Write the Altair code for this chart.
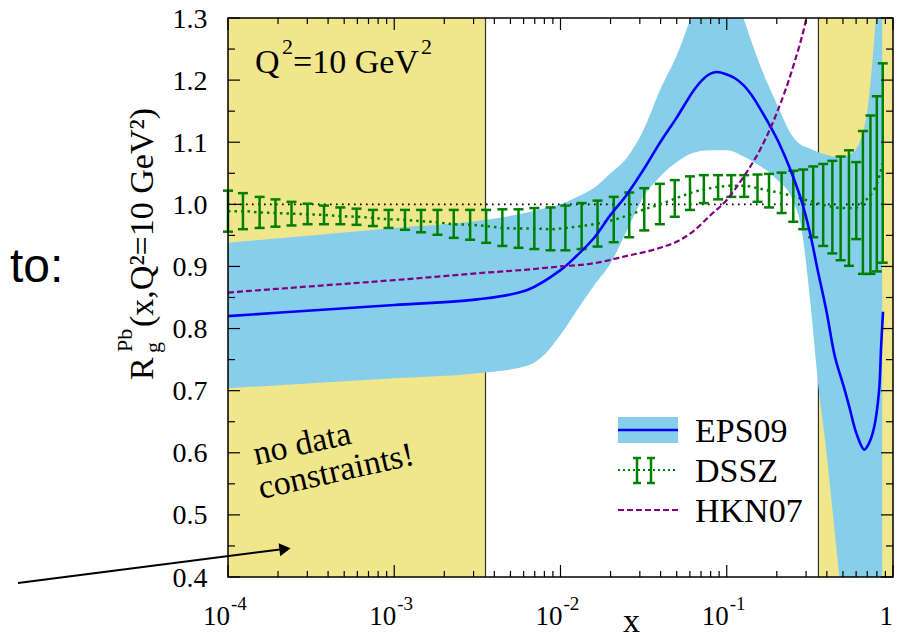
import altair as alt
import pandas as pd

W, H = 665, 559
SERIF = "Liberation Serif"
SANS = "Liberation Sans"
KHAKI = "#F0E68C"
SKY = "#87CEEB"
BLUE = "#0000FF"
GREEN = "#008000"
PURPLE = "#800080"

# ---------------- data ----------------
nodata_low = [1e-4, 0.00354]
nodata_high = [0.356, 1.0]

eps_x = [1e-4, 3.16e-4, 1e-3, 3.16e-3, 6.31e-3, 0.01, 0.0126, 0.0158, 0.02, 0.0251,
         0.0316, 0.0398, 0.0501, 0.0631, 0.0724, 0.0794, 0.0871, 0.1, 0.112, 0.126,
         0.141, 0.158, 0.178, 0.2, 0.224, 0.251, 0.282, 0.316, 0.355, 0.398, 0.447,
         0.501, 0.546, 0.601, 0.671, 0.719, 0.770, 0.825, 0.848, 0.871]
eps_c = [0.820, 0.829, 0.838, 0.847, 0.862, 0.894, 0.918, 0.945, 0.983, 1.016,
         1.056, 1.100, 1.140, 1.183, 1.202, 1.210, 1.213, 1.209, 1.203, 1.192,
         1.176, 1.155, 1.131, 1.106, 1.077, 1.044, 1.005, 0.955, 0.890, 0.828, 0.755,
         0.710, 0.674, 0.632, 0.605, 0.616, 0.641, 0.701, 0.770, 0.827]

band_x = [1e-4, 3.16e-4, 1e-3, 3.16e-3, 6.31e-3, 8.13e-3, 0.01, 0.0126, 0.0158, 0.02,
          0.0251, 0.0316, 0.0398, 0.0501, 0.0631, 0.0794, 0.1, 0.126, 0.158, 0.2,
          0.251, 0.282, 0.316, 0.355, 0.398, 0.447, 0.501, 0.562, 0.631, 0.708,
          0.794, 0.861]
band_hi = [0.938, 0.950, 0.962, 0.973, 0.987, 0.994, 1.000, 1.012, 1.026, 1.050,
           1.075, 1.120, 1.185, 1.240, 1.310, 1.360, 1.380, 1.300, 1.225, 1.162,
           1.108, 1.095, 1.090, 1.084, 1.080, 1.077, 1.077, 1.082, 1.100, 1.160,
           1.310, 1.450]
band_lo = [0.704, 0.712, 0.720, 0.728, 0.740, 0.760, 0.790, 0.830, 0.868, 0.905,
           0.958, 1.012, 1.045, 1.068, 1.083, 1.087, 1.087, 1.077, 1.062, 1.040,
           1.005, 0.960, 0.850, 0.710, 0.600, 0.470, 0.340, 0.200, 0.100, 0.050,
           0.030, 0.030]

dssz_x = [1.00e-4, 1.23e-4, 1.55e-4, 1.93e-4, 2.41e-4, 3.01e-4, 3.78e-4, 4.74e-4,
          5.93e-4, 7.44e-4, 9.24e-4, 1.16e-3, 1.45e-3, 1.82e-3, 2.28e-3, 2.86e-3,
          3.57e-3, 4.47e-3, 5.59e-3, 6.96e-3, 8.71e-3, 1.07e-2, 1.34e-2, 1.67e-2,
          2.09e-2, 2.59e-2, 3.19e-2, 3.96e-2, 4.87e-2, 6.01e-2, 7.28e-2, 8.87e-2,
          0.1065, 0.1273, 0.1531, 0.1796, 0.2138, 0.2512, 0.2884, 0.3311, 0.3802,
          0.4317, 0.4842, 0.5433, 0.6012, 0.6592, 0.7318, 0.7990, 0.8676]
dssz_hi = [1.022, 1.018, 1.012, 1.008, 1.004, 1.001, 0.998, 0.995, 0.993, 0.991,
           0.991, 0.991, 0.991, 0.991, 0.991, 0.991, 0.991, 0.992, 0.992, 0.994,
           0.995, 0.998, 1.002, 1.006, 1.012, 1.019, 1.026, 1.033, 1.039, 1.045,
           1.047, 1.047, 1.047, 1.047, 1.048, 1.049, 1.051, 1.054, 1.056, 1.061,
           1.065, 1.070, 1.077, 1.087, 1.068, 1.118, 1.143, 1.174, 1.227]
dssz_lo = [0.956, 0.960, 0.962, 0.964, 0.966, 0.968, 0.968, 0.968, 0.967, 0.965,
           0.962, 0.959, 0.955, 0.951, 0.946, 0.943, 0.938, 0.933, 0.930, 0.928,
           0.926, 0.926, 0.928, 0.932, 0.939, 0.947, 0.958, 0.968, 0.980, 0.991,
           1.002, 1.008, 1.012, 1.012, 1.004, 0.995, 0.986, 0.972, 0.960, 0.947,
           0.933, 0.921, 0.910, 0.901, 0.944, 0.888, 0.888, 0.892, 0.906]
dssz_c = [0.989, 0.989, 0.987, 0.986, 0.985, 0.984, 0.983, 0.981, 0.980, 0.978,
          0.976, 0.975, 0.973, 0.971, 0.968, 0.967, 0.965, 0.962, 0.961, 0.961,
          0.960, 0.962, 0.965, 0.969, 0.975, 0.983, 0.992, 1.000, 1.009, 1.018,
          1.024, 1.028, 1.030, 1.030, 1.026, 1.022, 1.018, 1.013, 1.008, 1.004,
          0.999, 0.996, 0.994, 0.994, 0.995, 1.003, 1.015, 1.033, 1.066]

hkn_x = [1e-4, 3.16e-4, 1e-3, 3.16e-3, 6.31e-3, 0.01, 0.0158, 0.0251, 0.0398, 0.0501,
         0.0631, 0.0794, 0.1, 0.126, 0.158, 0.2, 0.251, 0.30, 0.34]
hkn_y = [0.858, 0.868, 0.878, 0.889, 0.895, 0.900, 0.905, 0.917, 0.930, 0.940,
         0.957, 0.982, 1.007, 1.044, 1.087, 1.147, 1.222, 1.297, 1.370]

unity = [1.0]
unity_range = [1e-4, 0.87]

x_major = [1e-4, 1e-3, 1e-2, 1e-1, 1.0]
x_exp = ["-4", "-3", "-2", "-1"]
x_minor = [m * 10.0 ** e for e in range(-4, 0) for m in range(2, 10)]
y_major = [0.4, 0.5, 0.6, 0.7, 0.8, 0.9, 1.0, 1.1, 1.2, 1.3]
y_minor = [0.45, 0.55, 0.65, 0.75, 0.85, 0.95, 1.05, 1.15, 1.25]

# ---------------- scales ----------------
XS = alt.Scale(type="log", domain=[1e-4, 1], nice=False)
YS = alt.Scale(domain=[0.4, 1.3], nice=False, zero=False)
YAX = alt.Axis(values=y_major, format=".1f", labelFont=SERIF, labelFontSize=28,
               labelColor="black", ticks=False, domain=False, grid=False,
               labelPadding=21, labelOffset=1, title=None)


def X(f):
    return alt.X(f, type="quantitative", scale=XS, axis=None)


def Y(f):
    return alt.Y(f, type="quantitative", scale=YS, axis=YAX)


one = pd.DataFrame({"k": [0]})


def txt(s, x, y, size, font=SERIF, **kw):
    return alt.Chart(one).mark_text(text=s, font=font, fontSize=size, align="left",
                                    baseline="alphabetic", color="black", **kw
                                    ).encode(x=alt.value(x), y=alt.value(y))


def seg(x1, y1, x2, y2, **kw):
    return alt.Chart(one).mark_rule(**kw).encode(
        x=alt.value(x1), y=alt.value(y1), x2=alt.value(x2), y2=alt.value(y2))


layers = []

# no-data regions
reg = pd.DataFrame({"x0": [nodata_low[0], nodata_high[0]], "x1": [nodata_low[1], nodata_high[1]]})
layers.append(alt.Chart(reg).mark_rect(color=KHAKI).encode(
    x=X("x0"), x2="x1", y=alt.value(0), y2=alt.value(H)))
layers.append(alt.Chart(pd.DataFrame({"x": [nodata_low[1], nodata_high[0]]})).mark_rule(
    color="#333333", strokeWidth=1.2).encode(x=X("x"), y=alt.value(0), y2=alt.value(H)))

# EPS09 band
band = pd.DataFrame({"x": band_x, "hi": band_hi, "lo": band_lo})
layers.append(alt.Chart(band).mark_area(color=SKY, opacity=1, clip=True, interpolate="monotone").encode(
    x=X("x"), y=Y("hi"), y2="lo"))

# unity dotted line
layers.append(alt.Chart(pd.DataFrame({"x0": [unity_range[0]], "x1": [unity_range[1]], "y": unity})).mark_rule(
    color="black", strokeWidth=1.8, strokeDash=[1.6, 4.4]).encode(x=X("x0"), x2="x1", y=Y("y")))

# DSSZ
dssz = pd.DataFrame({"x": dssz_x, "c": dssz_c, "lo": dssz_lo, "hi": dssz_hi})
layers.append(alt.Chart(dssz).mark_line(color=GREEN, strokeWidth=2.5, strokeDash=[2.5, 4],
                                        interpolate="monotone").encode(x=X("x"), y=Y("c")))
layers.append(alt.Chart(dssz).mark_rule(color=GREEN, strokeWidth=2.5).encode(
    x=X("x"), y=Y("lo"), y2="hi"))
for col in ["lo", "hi"]:
    layers.append(alt.Chart(dssz).mark_point(shape="stroke", size=100, strokeWidth=2.5,
                                             color=GREEN, opacity=1).encode(x=X("x"), y=Y(col)))

# EPS09 central
eps = pd.DataFrame({"x": eps_x, "y": eps_c})
layers.append(alt.Chart(eps).mark_line(color=BLUE, strokeWidth=2.6, interpolate="catmull-rom").encode(
    x=X("x"), y=Y("y")))

# HKN07
hkn = pd.DataFrame({"x": hkn_x, "y": hkn_y})
layers.append(alt.Chart(hkn).mark_line(color=PURPLE, strokeWidth=2.2, strokeDash=[6, 3],
                                       clip=True, interpolate="monotone").encode(x=X("x"), y=Y("y")))

# inward ticks
xmaj = pd.DataFrame({"x": x_major})
xmin = pd.DataFrame({"x": x_minor})
ymaj = pd.DataFrame({"y": y_major})
ymin = pd.DataFrame({"y": y_minor})
for dfx, ln in [(xmaj, 12), (xmin, 6)]:
    layers.append(alt.Chart(dfx).mark_rule(color="black", strokeWidth=1.2).encode(
        x=X("x"), y=alt.value(H), y2=alt.value(H - ln)))
    layers.append(alt.Chart(dfx).mark_rule(color="black", strokeWidth=1.2).encode(
        x=X("x"), y=alt.value(0), y2=alt.value(ln)))
for dfy, ln in [(ymaj, 12), (ymin, 7)]:
    layers.append(alt.Chart(dfy).mark_rule(color="black", strokeWidth=1.2).encode(
        y=Y("y"), x=alt.value(0), x2=alt.value(ln)))
    layers.append(alt.Chart(dfy).mark_rule(color="black", strokeWidth=1.2).encode(
        y=Y("y"), x=alt.value(W), x2=alt.value(W - ln)))

# frame
layers.append(alt.Chart(one).mark_rect(filled=False, stroke="black", strokeWidth=1.5).encode(
    x=alt.value(0), x2=alt.value(W), y=alt.value(0), y2=alt.value(H)))

# x tick labels
xl = pd.DataFrame({"x": x_major[:4], "e": x_exp})
layers.append(alt.Chart(xl).mark_text(text="10", font=SERIF, fontSize=27, align="right",
                                      baseline="alphabetic", dx=2, color="black").encode(
    x=X("x"), y=alt.value(607)))
layers.append(alt.Chart(xl).mark_text(font=SERIF, fontSize=19, align="left",
                                      baseline="alphabetic", dx=3, color="black").encode(
    x=X("x"), y=alt.value(592), text="e:N"))
layers.append(alt.Chart(pd.DataFrame({"x": [1.0]})).mark_text(
    text="1", font=SERIF, fontSize=27, align="right", baseline="alphabetic", color="black").encode(
    x=X("x"), y=alt.value(607)))

# axis titles
layers.append(txt("x", 395, 614, 34))
layers.append(txt("R", -75, 362, 34, angle=270))
layers.append(txt("Pb", -96, 334, 22, angle=270))
layers.append(txt("g", -68, 335, 22, angle=270))
layers.append(txt("(x,Q²=10 GeV²)", -75, 309, 34, angle=270))

# annotations
layers.append(txt("Q", 27, 55, 34))
layers.append(txt("2", 54, 36, 22))
layers.append(txt("=10 GeV", 65, 55, 34))
layers.append(txt("2", 193, 36, 22))
layers.append(txt("no data", 28, 447, 34, angle=347.4))
layers.append(txt("constraints!", 33, 481, 34, angle=347.4))

# legend
layers.append(alt.Chart(one).mark_rect(color=SKY).encode(
    x=alt.value(390), x2=alt.value(450), y=alt.value(399), y2=alt.value(425)))
layers.append(seg(390, 412, 450, 412, color=BLUE, strokeWidth=2.6))
layers.append(seg(390, 452, 450, 452, color=GREEN, strokeWidth=2.2, strokeDash=[2, 3]))
for bx in [409, 423]:
    layers.append(seg(bx, 440, bx, 465, color=GREEN, strokeWidth=2.5))
    layers.append(seg(bx - 4, 440, bx + 4, 440, color=GREEN, strokeWidth=2.5))
    layers.append(seg(bx - 4, 465, bx + 4, 465, color=GREEN, strokeWidth=2.5))
layers.append(seg(390, 492, 450, 492, color=PURPLE, strokeWidth=2.2, strokeDash=[6, 3]))
layers.append(txt("EPS09", 467, 424, 34))
layers.append(txt("DSSZ", 467, 464, 34))
layers.append(txt("HKN07", 467, 504, 34))

# slide fragments
layers.append(txt("to:", -218, 264, 48, font=SANS))
layers.append(seg(-210, 565, 56, 531, color="black", strokeWidth=2))
layers.append(alt.Chart(one).mark_point(shape="triangle-right", filled=True, size=170,
                                        angle=352.7, color="black", opacity=1).encode(
    x=alt.value(57), y=alt.value(531)))

chart = alt.layer(*layers).properties(
    width=W, height=H,
    padding={"left": 220, "top": 10, "right": 1, "bottom": 61},
    autosize=alt.AutoSizeParams(type="none"),
).configure_view(stroke=None)

chart.save("out.html", embed_options={"renderer": "svg", "actions": False})
